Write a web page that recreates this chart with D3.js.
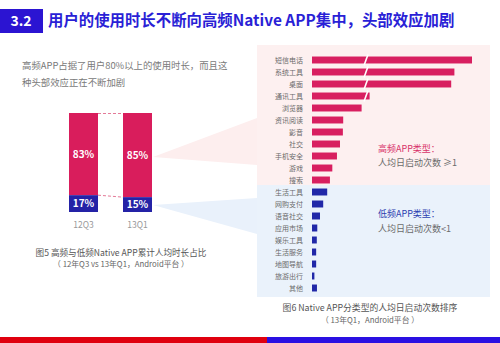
<!DOCTYPE html>
<html><head><meta charset="utf-8">
<script src="https://cdn.jsdelivr.net/npm/d3@7/dist/d3.min.js"></script>
<style>
html,body{margin:0;padding:0;background:#fff;}
svg{display:block;font-family:"Noto Sans CJK SC","Noto Sans",sans-serif;}
</style></head>
<body>
<svg id="c" width="500" height="343"></svg>
<script>
// ---- data ----
const periods = ["12Q3", "13Q1"];
const highShare = [83, 85];
const lowShare = [17, 15];

const categories = ["短信电话","系统工具","桌面","通讯工具","浏览器","资讯阅读","影音","社交","手机安全","游戏","搜索",
  "生活工具","网购支付","语音社交","应用市场","娱乐工具","生活服务","地图导航","旅游出行","其他"];
const launches = [10, 8.9, 8.7, 3.6, 3.1, 1.95, 1.93, 1.75, 1.56, 1.27, 1.12,
  0.95, 0.7, 0.5, 0.33, 0.3, 0.26, 0.26, 0.15, 0.31];
const brokenBars = ["短信电话","系统工具","桌面","通讯工具"];
const threshold = 1;

const svg = d3.select("#c");

// ---- title ----
svg.append("rect").attr("x",0).attr("y",9).attr("width",43).attr("height",24).attr("fill","#2b14d2");
svg.append("text").attr("x",21).attr("y",26).attr("text-anchor","middle").attr("fill","#fff")
  .attr("font-size",14).attr("font-weight","bold").text("3.2");
svg.append("text").attr("x",48).attr("y",26).attr("fill","#2a1fd6")
  .attr("font-size",15.4).attr("font-weight","bold").text("用户的使用时长不断向高频Native APP集中，头部效应加剧");

// ---- left intro text ----
svg.append("text").attr("x",22).attr("y",69).attr("fill","#7a7a7a").attr("font-size",9.4)
  .text("高频APP占据了用户80%以上的使用时长，而且这");
svg.append("text").attr("x",22).attr("y",86).attr("fill","#7a7a7a").attr("font-size",9.4)
  .text("种头部效应正在不断加剧");

// ---- right panels ----
const yR = d3.scaleBand().domain(categories).range([54, 294]).paddingInner(0.42).paddingOuter(0.21);
const xR = d3.scaleLinear().domain([0, 10]).range([312, 472]);
const firstLow = categories[launches.findIndex(v => v < threshold)];
const splitY = yR(firstLow) - yR.step()*yR.paddingInner()/2 - 1;

// wedges
svg.append("polygon").attr("points","153,157 257,118 257,165").attr("fill","#fdeeee");
svg.append("polygon").attr("points","153,205 257,198 257,234").attr("fill","#e9f1fb");

svg.append("rect").attr("x",257).attr("y",45).attr("width",233).attr("height",splitY-45).attr("fill","#fdf0f0");
svg.append("rect").attr("x",257).attr("y",splitY).attr("width",233).attr("height",297-splitY).attr("fill","#eaf2fb");

// ---- left stacked bars ----
const xL = d3.scaleBand().domain(periods).range([55.5, 165.5]).paddingInner(0.463).paddingOuter(0.25);
const yL = d3.scaleLinear().domain([0, 100]).range([212, 113]);
const pink = "#d91d5c", blue = "#2422a6";

const gL = svg.append("g");
periods.forEach((p, i) => {
  gL.append("rect").attr("x", xL(p)).attr("width", xL.bandwidth())
    .attr("y", yL(100)).attr("height", yL(lowShare[i]) - yL(100)).attr("fill", pink);
  gL.append("rect").attr("x", xL(p)).attr("width", xL.bandwidth())
    .attr("y", yL(lowShare[i])).attr("height", yL(0) - yL(lowShare[i])).attr("fill", blue);
  gL.append("text").attr("x", xL(p) + xL.bandwidth()/2).attr("y", (yL(100)+yL(lowShare[i]))/2 + 4)
    .attr("text-anchor","middle").attr("fill","#fff").attr("font-size",10).attr("font-weight","bold")
    .text(highShare[i] + "%");
  gL.append("text").attr("x", xL(p) + xL.bandwidth()/2).attr("y", (yL(0)+yL(lowShare[i]))/2 + 3.5)
    .attr("text-anchor","middle").attr("fill","#fff").attr("font-size",10).attr("font-weight","bold")
    .text(lowShare[i] + "%");
  gL.append("text").attr("x", xL(p) + xL.bandwidth()/2).attr("y", 228)
    .attr("text-anchor","middle").attr("fill","#999").attr("font-size",8.5).text(p);
});
// dashed connectors
const x0 = xL(periods[0]) + xL.bandwidth(), x1 = xL(periods[1]);
gL.append("line").attr("x1",x0).attr("x2",x1).attr("y1",yL(100)+0.5).attr("y2",yL(100)+0.5)
  .attr("stroke","#e47a98").attr("stroke-dasharray","3,2").attr("stroke-width",1);
gL.append("line").attr("x1",x0).attr("x2",x1).attr("y1",yL(lowShare[0])).attr("y2",yL(lowShare[1]))
  .attr("stroke","#e47a98").attr("stroke-dasharray","3,2").attr("stroke-width",1);

svg.append("text").attr("x",121).attr("y",256).attr("text-anchor","middle").attr("fill","#555").attr("font-size",8.6)
  .text("图5 高频与低频Native APP累计人均时长占比");
svg.append("text").attr("x",121).attr("y",267).attr("text-anchor","middle").attr("fill","#666").attr("font-size",7.8)
  .text("（ 12年Q3 vs 13年Q1，Android平台 ）");

// ---- right bars ----
const gR = svg.append("g");
categories.forEach((c, i) => {
  gR.append("rect").attr("x", xR(0)).attr("y", yR(c)).attr("height", yR.bandwidth())
    .attr("width", xR(launches[i]) - xR(0)).attr("fill", launches[i] >= threshold ? "#d81f60" : "#2128a8");
  gR.append("text").attr("x", 303).attr("y", yR(c) + yR.bandwidth()/2 + 2.5)
    .attr("text-anchor","end").attr("fill","#6b6b6b").attr("font-size",7).text(c);
});
brokenBars.forEach(c => {
  const cy = yR(c) + yR.bandwidth()/2;
  gR.append("line").attr("x1",364).attr("y1",cy+5.5).attr("x2",368).attr("y2",cy-5.5)
    .attr("stroke","#fff").attr("stroke-width",1.6);
});

svg.append("text").attr("x",378).attr("y",152).attr("fill","#d8336a").attr("font-size",9).text("高频APP类型：");
svg.append("text").attr("x",378).attr("y",166).attr("fill","#6b6b6b").attr("font-size",9).text("人均日启动次数 ≥1");
svg.append("text").attr("x",378).attr("y",217).attr("fill","#2b3fb0").attr("font-size",9).text("低频APP类型：");
svg.append("text").attr("x",378).attr("y",232).attr("fill","#6b6b6b").attr("font-size",9).text("人均日启动次数<1");

svg.append("text").attr("x",370).attr("y",311).attr("text-anchor","middle").attr("fill","#555").attr("font-size",8.8)
  .text("图6 Native APP分类型的人均日启动次数排序");
svg.append("text").attr("x",370).attr("y",323).attr("text-anchor","middle").attr("fill","#666").attr("font-size",7.8)
  .text("（ 13年Q1，Android平台 ）");

// ---- bottom band ----
svg.append("rect").attr("x",0).attr("y",337).attr("width",267).attr("height",6).attr("fill","#e0000f");
svg.append("rect").attr("x",267).attr("y",337).attr("width",233).attr("height",6).attr("fill","#2a10e2");
</script>
</body></html>
